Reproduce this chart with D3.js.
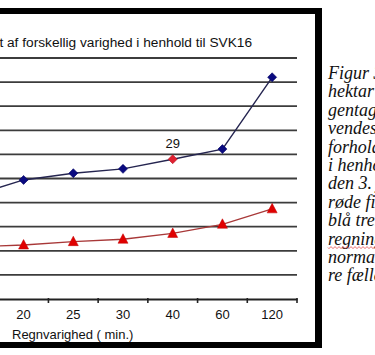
<!DOCTYPE html>
<html>
<head>
<meta charset="utf-8">
<script src="https://cdn.jsdelivr.net/npm/d3@7"></script>
<style>
html,body{margin:0;padding:0;background:#fff;}
svg{display:block;}
</style>
</head>
<body>
<svg id="chart" width="375" height="355"></svg>
<script>
// ---- data ----
const categories = ["15", "20", "25", "30", "40", "60", "120"];
const blueValues = [21.5, 24.7, 26.1, 27.0, 29.0, 31.1, 46.0];
const redValues  = [10.8, 11.2, 11.9, 12.4, 13.6, 15.5, 18.7];
const yTicks = [5, 10, 15, 20, 25, 30, 35, 40, 45, 50];
const highlightCategory = "40";
const highlightLabel = "29";
const titleText = "Nedbørsmængde for regnskyllet af forskellig varighed i henhold til SVK16";
const xAxisTitle = "Regnvarighed ( min.)";
const captionLines = ["Figur 3. Nedbør pr.", "hektar ved forskellige", "gentagelsesperioder", "vendes i", "forholdet", "i henhold til", "den 3. juli", "røde figurer", "blå trekanter", "regningen", "normal", "re fælles"];

// ---- layout ----
const svg = d3.select("#chart");
const W = 375, H = 355;
svg.append("rect").attr("width", W).attr("height", H).attr("fill", "#fff");

const x = d3.scaleBand().domain(categories).range([-51, 297]).padding(0);
const y = d3.scaleLinear().domain([0, 50]).range([299, 58]);
const cx = d => x(d) + x.bandwidth() / 2;

// gridlines
svg.append("g").selectAll("line").data(yTicks).join("line")
  .attr("x1", -60).attr("x2", 297)
  .attr("y1", d => y(d)).attr("y2", d => y(d))
  .attr("stroke", "#3c3c3c").attr("stroke-width", 1.8);

// x axis
const xAxis = svg.append("g").attr("transform", `translate(0,${y(0)})`)
  .call(d3.axisBottom(x).tickSize(0).tickPadding(11));
xAxis.select(".domain").attr("stroke", "#222").attr("stroke-width", 1.8);
xAxis.selectAll("text").attr("font-family", "Arial, 'Liberation Sans', sans-serif")
  .attr("font-size", 13).attr("fill", "#111");
// ticks at band boundaries
const bounds = categories.map(c => x(c)).concat([x.range()[1]]);
xAxis.append("g").selectAll("line").data(bounds).join("line")
  .attr("x1", d => d).attr("x2", d => d).attr("y1", -1).attr("y2", 4)
  .attr("stroke", "#222").attr("stroke-width", 1.6);

// axis title
svg.append("text").attr("x", 12).attr("y", 339)
  .attr("font-family", "Arial, 'Liberation Sans', sans-serif").attr("font-size", 13)
  .attr("fill", "#111").text(xAxisTitle);

// chart title
svg.append("text").attr("x", 252).attr("y", 47).attr("text-anchor", "end")
  .attr("font-family", "Arial, 'Liberation Sans', sans-serif").attr("font-size", 13.7)
  .attr("fill", "#111").text(titleText);

// lines
const line = d3.line().x(d => cx(d.c)).y(d => y(d.v));
const blueData = categories.map((c, i) => ({c, v: blueValues[i]}));
const redData = categories.map((c, i) => ({c, v: redValues[i]}));

svg.append("path").datum(redData).attr("d", line)
  .attr("fill", "none").attr("stroke", "#a83838").attr("stroke-width", 1.3);
svg.append("path").datum(blueData).attr("d", line)
  .attr("fill", "none").attr("stroke", "#252550").attr("stroke-width", 1.4);

// markers
svg.append("g").selectAll("path").data(redData).join("path")
  .attr("transform", d => `translate(${cx(d.c)},${y(d.v)})`)
  .attr("d", "M0,-5.5 L5,4 L-5,4 Z")
  .attr("fill", "#e00000").attr("stroke", "#c00000").attr("stroke-width", 0.5);

svg.append("g").selectAll("path").data(blueData).join("path")
  .attr("transform", d => `translate(${cx(d.c)},${y(d.v)})`)
  .attr("d", "M0,-4.5 L4.5,0 L0,4.5 L-4.5,0 Z")
  .attr("fill", d => d.c === highlightCategory ? "#e02030" : "#0a0a80")
  .attr("stroke", d => d.c === highlightCategory ? "#b01020" : "#000060").attr("stroke-width", 0.6);

// data label
const hi = blueData.find(d => d.c === highlightCategory);
svg.append("text").attr("x", cx(hi.c)).attr("y", y(hi.v) - 11).attr("text-anchor", "middle")
  .attr("font-family", "Arial, 'Liberation Sans', sans-serif").attr("font-size", 13)
  .attr("fill", "#111").text(highlightLabel);

// frame
svg.append("rect").attr("x", -10).attr("y", 8).attr("width", 332).attr("height", 6).attr("fill", "#000");
svg.append("rect").attr("x", 315).attr("y", 8).attr("width", 7).attr("height", 340).attr("fill", "#000");
svg.append("rect").attr("x", -10).attr("y", 342).attr("width", 332).attr("height", 6).attr("fill", "#000");

// caption
const cap = svg.append("g");
cap.selectAll("text").data(captionLines).join("text")
  .attr("x", 328).attr("y", (d, i) => 79 + i * 18.4)
  .attr("font-family", "'Liberation Serif', 'Times New Roman', serif")
  .attr("font-style", "italic").attr("font-size", 18).attr("fill", "#111")
  .text(d => d);

// spell-check squiggle under "regningen"
const sqY = 79 + 9 * 18.4 + 3;
let sq = `M328,${sqY}`;
for (let xx = 328; xx < 375; xx += 2) sq += ` L${xx + 1},${sqY + ((xx / 2) % 2 === 0 ? 1 : -1)}`;
svg.append("path").attr("d", sq).attr("fill", "none").attr("stroke", "#e03030").attr("stroke-width", 0.7);
</script>
</body>
</html>
